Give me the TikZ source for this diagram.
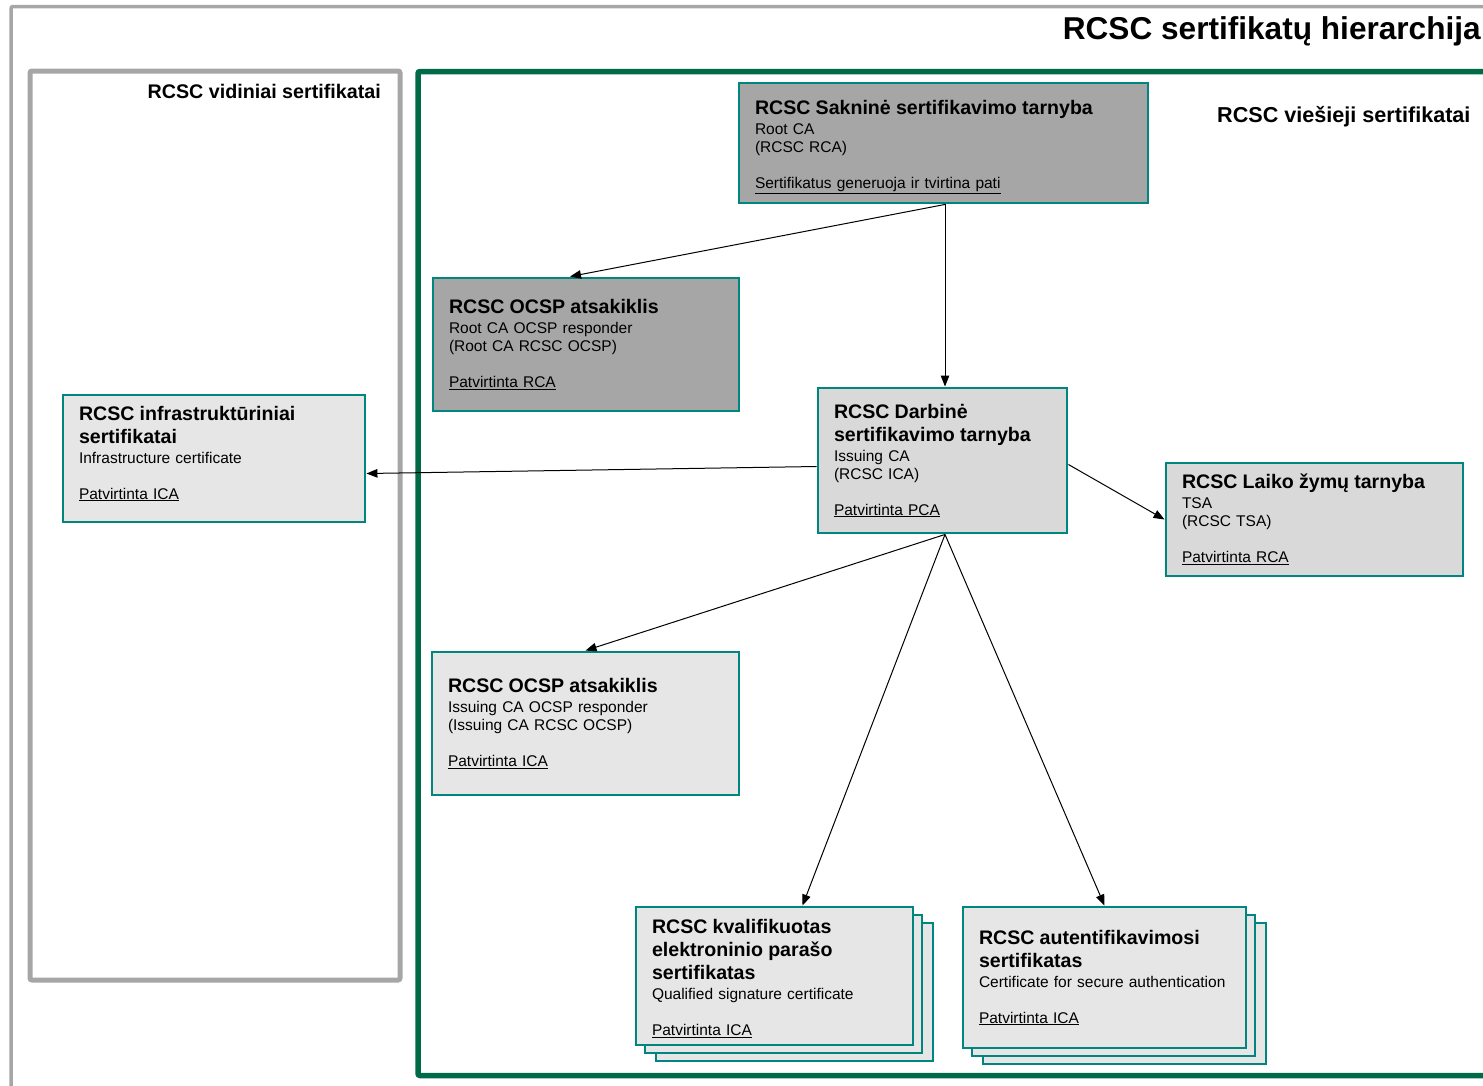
\documentclass[tikz,border=0pt]{standalone}
\usepackage{fontspec}
\setmainfont{Liberation Sans}
\usetikzlibrary{arrows.meta}
\usetikzlibrary{shadows}
\definecolor{boxteal}{RGB}{0,133,127}
\definecolor{framegreen}{RGB}{0,106,72}
\definecolor{framegray}{RGB}{166,166,166}
\definecolor{darkfill}{RGB}{166,166,166}
\definecolor{midfill}{RGB}{217,217,217}
\definecolor{lightfill}{RGB}{230,230,230}
\newcommand{\boxhead}[1]{{\fontsize{19.6}{23}\selectfont\bfseries #1\par}\vspace{2pt}}
\newcommand{\boxgap}{\par\vspace{18pt}}

\begin{document}
\begin{tikzpicture}[x=1pt,y=-1pt,
  certbox/.style={draw=boxteal,line width=2.9pt,inner xsep=16pt,inner ysep=4pt,
    align=left,font=\fontsize{15.5}{18}\selectfont},
  stackbox/.style={certbox,copy shadow={shadow xshift=20pt,shadow yshift=-16pt},
    copy shadow={shadow xshift=9pt,shadow yshift=-8pt}},
  link/.style={line width=1pt,-{Triangle[length=11pt,width=8.5pt]}},
  frametitle/.style={font=\fontsize{19.7}{23}\selectfont\bfseries,inner sep=0pt}]
  \useasboundingbox (0,0) rectangle (1483,1085);
  \clip (0,0) rectangle (1483,1085);

  \draw[framegray,line width=3.5pt,rounded corners=2pt] (11,6.5) rectangle (1520,1120);
  \draw[framegray,line width=5pt,rounded corners=2pt] (30,71) rectangle (400,980);
  \draw[framegreen,line width=5.5pt,rounded corners=2pt] (418,71.5) rectangle (1520,1075.5);

  \node[anchor=east,inner sep=0pt,font=\fontsize{31.6}{36}\selectfont\bfseries] (title) at (1481,31) {RCSC sertifikatų hierarchija};
  \node[frametitle,anchor=east] (internal) at (381,91) {RCSC vidiniai sertifikatai};
  \node[frametitle,font=\fontsize{21.6}{25}\selectfont\bfseries,anchor=west] (public) at (1217,117) {RCSC viešieji sertifikatai};

  \node[certbox,fill=darkfill,text width=377pt,minimum height=120pt] (root) at (943.5,143)
    {\boxhead{\rule{0pt}{22.5pt}RCSC Sakninė sertifikavimo tarnyba}Root CA\par(RCSC RCA)\boxgap\underline{Sertifikatus generuoja ir tvirtina pati}};
  \node[certbox,fill=darkfill,text width=274pt,minimum height=133pt] (ocspa) at (586,344.5)
    {\boxhead{RCSC OCSP atsakiklis}Root CA OCSP responder\par(Root CA RCSC OCSP)\boxgap\underline{Patvirtinta RCA}};
  \node[certbox,fill=midfill,text width=217pt,minimum height=145pt] (darbine) at (942.5,460.5)
    {\boxhead{RCSC Darbinė\\sertifikavimo tarnyba}Issuing CA\par(RCSC ICA)\boxgap\underline{Patvirtinta PCA}};
  \node[certbox,fill=lightfill,text width=270pt,minimum height=127pt] (infra) at (214,458.5)
    {\boxhead{RCSC infrastruktūriniai\\sertifikatai}Infrastructure certificate\boxgap\underline{Patvirtinta ICA}\rule[-12pt]{0pt}{1pt}};
  \node[certbox,fill=midfill,text width=265pt,minimum height=113pt] (tsa) at (1314.5,519.5)
    {\boxhead{RCSC Laiko žymų tarnyba}TSA\par(RCSC TSA)\boxgap\underline{Patvirtinta RCA}};
  \node[certbox,fill=lightfill,text width=275pt,minimum height=143pt] (ocspb) at (585.5,723.5)
    {\boxhead{RCSC OCSP atsakiklis}Issuing CA OCSP responder\par(Issuing CA RCSC OCSP)\boxgap\underline{Patvirtinta ICA}};
  \node[stackbox,fill=lightfill,text width=245pt,minimum height=138pt] (qual) at (774.5,976)
    {\boxhead{\rule{0pt}{20pt}RCSC kvalifikuotas\\elektroninio parašo\\sertifikatas}Qualified signature certificate\boxgap\underline{Patvirtinta ICA}};
  \node[stackbox,fill=lightfill,text width=251pt,minimum height=141pt] (auth) at (1104.5,977.5)
    {\boxhead{RCSC autentifikavimosi\\sertifikatas}Certificate for secure authentication\boxgap\underline{Patvirtinta ICA}};

  \draw[link] ([xshift=1.5pt]root.south) -- ([xshift=-16pt]ocspa.north);
  \draw[link] ([xshift=1.5pt]root.south) -- ([xshift=2.5pt]darbine.north);
  \draw[link] ([yshift=-6pt]darbine.west) -- ([yshift=-15pt]infra.east);
  \draw[link] ([yshift=-4pt]darbine.east) -- (tsa.west);
  \draw[link] ([xshift=2.5pt]darbine.south) -- (ocspb.north);
  \draw[link] ([xshift=2.5pt]darbine.south) -- ([xshift=28pt]qual.north);
  \draw[link] ([xshift=2.5pt]darbine.south) -- (auth.north);
\end{tikzpicture}
\end{document}
